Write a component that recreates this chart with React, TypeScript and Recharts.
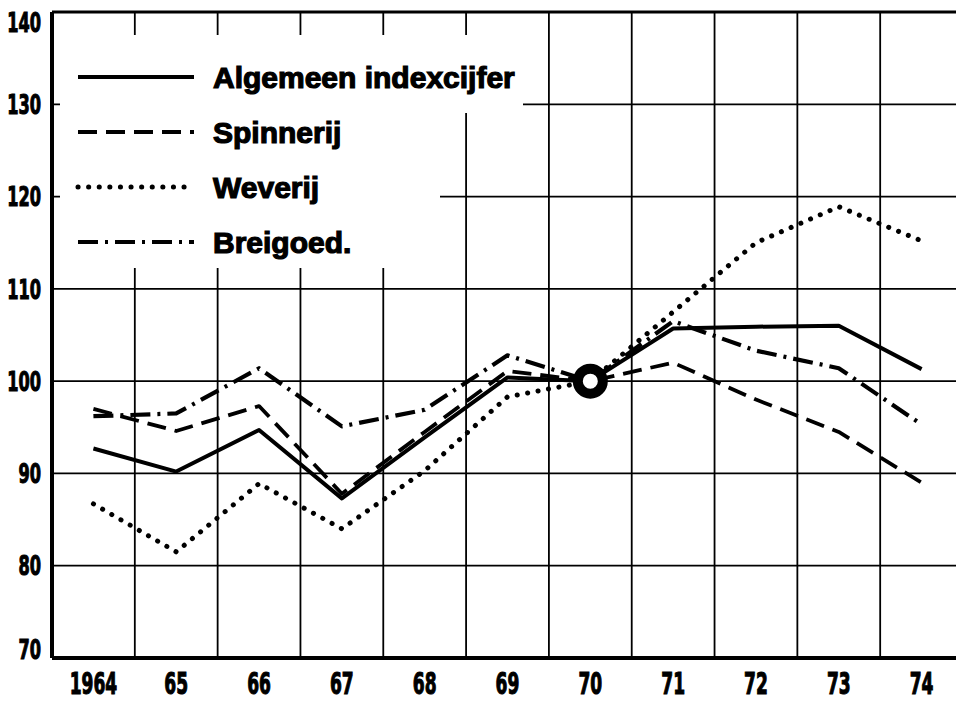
import React from "react";
import {
  ComposedChart,
  Line,
  XAxis,
  YAxis,
  CartesianGrid,
  ReferenceLine,
  ReferenceDot,
} from "recharts";

// index numbers, 1970 = 100
const years = ["1964", "65", "66", "67", "68", "69", "70", "71", "72", "73", "74"];
const algemeen = [92.7, 90.2, 94.7, 87.3, 93.9, 100.4, 100, 105.7, 105.9, 106.0, 101.3];
const spinnerij = [97.0, 94.6, 97.3, 87.8, 94.5, 101.1, 100, 102.0, 98.0, 94.5, 89.0];
const weverij = [86.7, 81.5, 88.9, 84.0, 90.3, 98.3, 100, 107.5, 115.0, 118.9, 115.2];
const breigoed = [96.2, 96.5, 101.4, 95.1, 96.9, 102.8, 100, 106.5, 103.3, 101.4, 95.3];
const yTicks = [70, 80, 90, 100, 110, 120, 130, 140];
const baseYear = "70";

const series = [
  { key: "algemeen", name: "Algemeen indexcijfer", dash: undefined, width: 4, cap: "butt" },
  { key: "spinnerij", name: "Spinnerij", dash: "19 9", width: 3.8, cap: "butt" },
  { key: "weverij", name: "Weverij", dash: "0.1 10.5", width: 5, cap: "round" },
  { key: "breigoed", name: "Breigoed.", dash: "20 7 3 7", width: 4.2, cap: "butt" },
];

const data = years.map((label, i) => ({
  idx: i,
  label,
  algemeen: algemeen[i],
  spinnerij: spinnerij[i],
  weverij: weverij[i],
  breigoed: breigoed[i],
}));

const xTicks = years.map((_, i) => i);
const boundaries = years.slice(1).map((_, i) => i + 0.5);

const tickFont = "'DejaVu Sans Condensed', 'Liberation Sans Narrow', sans-serif";

const YTick = (props: any) => {
  const { x, y, payload } = props;
  let shift = 0;
  if (payload.value === 140) shift = 10;
  if (payload.value === 70) shift = -9;
  return (
    <text
      transform={`translate(${x},${y + shift}) scale(1,1.5)`}
      textAnchor="end"
      dy="0.36em"
      fontFamily={tickFont}
      fontWeight={700}
      fontSize={18}
      fill="#000"
      stroke="#000"
      strokeWidth={0.7}
    >
      {payload.value}
    </text>
  );
};

const XTick = (props: any) => {
  const { x, y, payload } = props;
  return (
    <text
      transform={`translate(${x},${y + 25}) scale(1,1.55)`}
      textAnchor="middle"
      dy="0.36em"
      fontFamily={tickFont}
      fontWeight={700}
      fontSize={19}
      fill="#000"
      stroke="#000"
      strokeWidth={0.7}
    >
      {years[payload.value]}
    </text>
  );
};

// big open ring marking the base year
const BaseRing = (props: any) => (
  <circle cx={props.cx} cy={props.cy} r={12.5} fill="#fff" stroke="#000" strokeWidth={10} />
);

const legendBaselines = [88, 143, 198, 253];

const LegendBox = () => (
  <>
    <div style={{ position: "absolute", left: 60, top: 35, width: 463, height: 78, background: "#fff" }} />
    <div style={{ position: "absolute", left: 60, top: 113, width: 380, height: 155, background: "#fff" }} />
    {series.map((s, i) => {
      const b = legendBaselines[i];
      return (
        <React.Fragment key={s.key}>
          <svg
            width={122}
            height={12}
            style={{ position: "absolute", left: 75, top: b - 17 }}
          >
            <line
              x1={3}
              x2={119}
              y1={6}
              y2={6}
              stroke="#000"
              strokeWidth={s.width}
              strokeDasharray={s.dash}
              strokeLinecap={s.cap as any}
            />
          </svg>
          <div
            style={{
              position: "absolute",
              left: 213,
              top: b - 25,
              fontFamily: "'Liberation Sans', Arial, sans-serif",
              fontWeight: 700,
              fontSize: 30,
              lineHeight: "30px",
              color: "#000",
              whiteSpace: "nowrap",
              WebkitTextStroke: "1.2px #000",
            }}
          >
            {s.name}
          </div>
        </React.Fragment>
      );
    })}
  </>
);

export default function App() {
  return (
    <div
      style={{
        position: "fixed",
        left: 0,
        top: 0,
        width: 956,
        height: 701,
        overflow: "hidden",
        background: "#fff",
      }}
    >
      <ComposedChart
        width={970}
        height={701}
        data={data}
        margin={{ top: 12, right: 7, bottom: 0, left: 0 }}
      >
        <CartesianGrid vertical={false} stroke="#000" strokeWidth={1.8} />
        <XAxis
          dataKey="idx"
          type="number"
          domain={[-0.5, 10.5]}
          ticks={xTicks}
          interval={0}
          allowDataOverflow
          height={43}
          tickSize={0}
          tickMargin={0}
          tick={<XTick />}
          axisLine={{ stroke: "#000", strokeWidth: 4 }}
          tickLine={false}
        />
        <YAxis
          type="number"
          domain={[70, 140]}
          ticks={yTicks}
          interval={0}
          width={52}
          tickSize={0}
          tickMargin={11}
          tick={<YTick />}
          axisLine={{ stroke: "#000", strokeWidth: 4 }}
          tickLine={false}
        />
        {boundaries.map((b) => (
          <ReferenceLine key={b} x={b} stroke="#000" strokeWidth={1.8} />
        ))}
        <ReferenceLine y={140} stroke="#000" strokeWidth={3} />
        {series.map((s) => (
          <Line
            key={s.key}
            dataKey={s.key}
            name={s.name}
            type="linear"
            stroke="#000"
            strokeWidth={s.width}
            strokeDasharray={s.dash}
            strokeLinecap={s.cap as any}
            strokeLinejoin="round"
            dot={false}
            activeDot={false}
            isAnimationActive={false}
          />
        ))}
        <ReferenceDot
          x={years.indexOf(baseYear)}
          y={100}
          ifOverflow="visible"
          shape={<BaseRing />}
        />
      </ComposedChart>
      <LegendBox />
    </div>
  );
}
